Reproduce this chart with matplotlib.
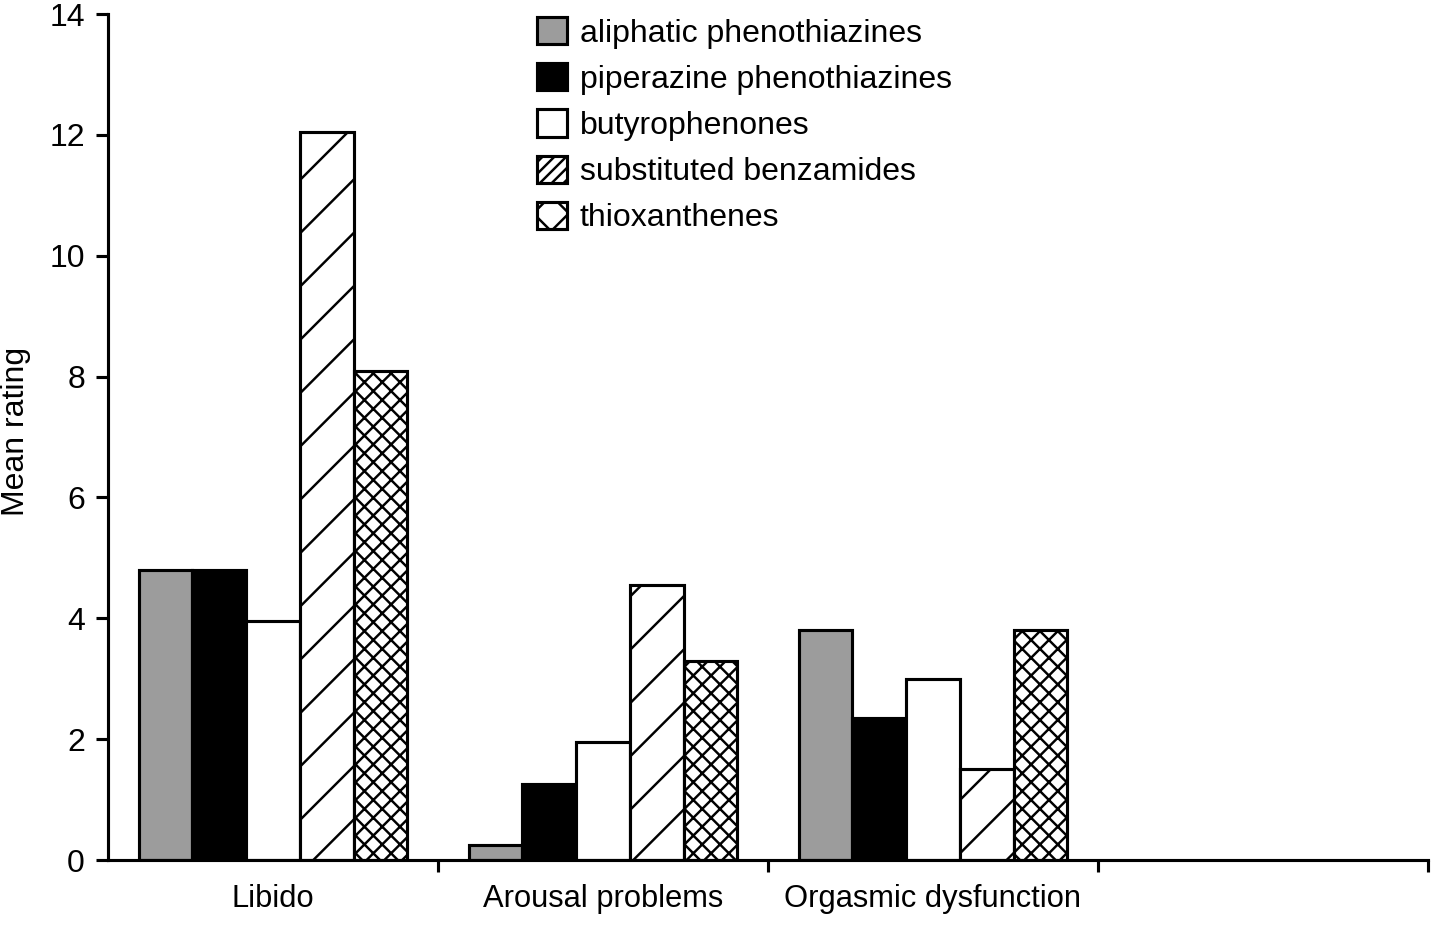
"""Grouped bar chart: mean rating of sexual side effects by antipsychotic class."""

import matplotlib.pyplot as plt
from matplotlib.patches import Patch
import numpy as np

# --- data ---
categories = ["Libido", "Arousal problems", "Orgasmic dysfunction"]
series_names = [
    "aliphatic phenothiazines",
    "piperazine phenothiazines",
    "butyrophenones",
    "substituted benzamides",
    "thioxanthenes",
]
aliphatic = [4.8, 0.25, 3.8]
piperazine = [4.8, 1.25, 2.35]
butyrophenones = [3.95, 1.95, 3.0]
benzamides = [12.05, 4.55, 1.5]
thioxanthenes = [8.1, 3.3, 3.8]
yticks = [0, 2, 4, 6, 8, 10, 12, 14]

DPI = 320
FS = 7.2
plt.rcParams["font.family"] = ["Liberation Sans", "DejaVu Sans"]
plt.rcParams["hatch.linewidth"] = 0.55

fig = plt.figure(figsize=(1438 / DPI, 933 / DPI), dpi=DPI)
ax = fig.add_axes([108 / 1438, 73 / 933, 1320 / 1438, 846 / 933])

colors = ["#9c9c9c", "black", "white", "white", "white"]
bar_hatches = [None, None, None, "//", "xxxxxx"]
legend_hatches = [None, None, None, "/" * 9, "xxx"]
values = [aliphatic, piperazine, butyrophenones, benzamides, thioxanthenes]

x = np.arange(len(categories))
width = 0.163
for i, vals in enumerate(values):
    ax.bar(x + (i - 2) * width, vals, width, color=colors[i], hatch=bar_hatches[i],
           edgecolor="black", linewidth=0.7, zorder=2)

ax.set_xlim(-0.5, 3.5)
ax.set_ylim(0, 14)
ax.set_yticks(yticks)
ax.tick_params(axis="y", direction="out", length=2.7, width=0.7, pad=2.5, labelsize=FS)

# tick marks at group boundaries, labels centred under each group
ax.set_xticks([0.5, 1.5, 2.5, 3.5])
ax.set_xticklabels([])
ax.tick_params(axis="x", which="major", direction="out", length=2.7, width=0.7)
ax.set_xticks(x, minor=True)
ax.set_xticklabels(categories, minor=True)
ax.tick_params(axis="x", which="minor", length=0, pad=5.3, labelsize=6.95)

for side in ("top", "right"):
    ax.spines[side].set_visible(False)
for side in ("left", "bottom"):
    ax.spines[side].set_linewidth(0.7)

ax.set_ylabel("Mean rating", fontsize=FS)
ax.yaxis.set_label_coords(-0.058, 0.506)

handles = [Patch(facecolor=c, edgecolor="black", hatch=h, linewidth=0.7, label=n)
           for c, h, n in zip(colors, legend_hatches, series_names)]
ax.legend(handles=handles, loc="upper left", bbox_to_anchor=(537 / 1438, 1 - 17 / 933),
          bbox_transform=fig.transFigure, frameon=False, fontsize=FS,
          borderpad=0, borderaxespad=0, handlelength=0.93, handleheight=0.93,
          handletextpad=0.4, labelspacing=0.455)

fig.savefig("out.png", dpi=DPI)
